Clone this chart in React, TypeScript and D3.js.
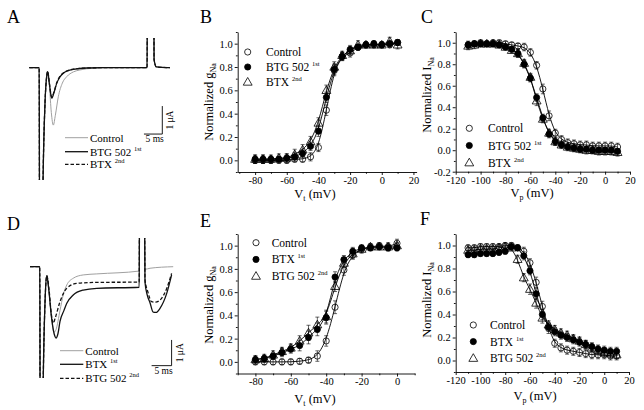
import React, { useEffect, useRef } from "react";
import * as d3 from "d3";

type Pt = [number, number];

const SERIF = "Liberation Serif";

// ---------- A: sodium current traces, time (ms) vs current (uA) ----------
const traceA_control: Pt[] = [
  [0, 0], [2.7, 0], [2.8, -6], [3.55, -6], [3.75, -4], [4.3, -1.2], [4.75, -0.3], [5.0, -0.14],
  [5.5, -0.7], [6.0, -1.6], [6.54, -2.05], [7.1, -1.7], [7.9, -1.04], [9.0, -0.55], [10.2, -0.32],
  [12, -0.15], [13.8, -0.08], [17.4, -0.02], [22, 0], [32.1, 0], [32.2, 4], [33.9, 4], [34.0, 0.3],
  [34.6, 0.03], [38.3, 0],
];
const traceA_btg: Pt[] = [
  [0, 0], [2.7, 0], [2.8, -6], [3.55, -6], [3.75, -4], [4.3, -1.2], [4.75, -0.3], [5.0, -0.14],
  [5.5, -0.6], [6.1, -1.09], [6.7, -0.9], [7.47, -0.56], [8.3, -0.34], [9.26, -0.2], [10.5, -0.11],
  [12, -0.06], [15.6, -0.01], [20, 0], [32.1, 0], [32.2, 4], [33.9, 4], [34.0, 0.3], [34.6, 0.03], [38.3, 0],
];
const traceA_btx: Pt[] = [
  [0, 0], [2.7, 0], [2.8, -6], [3.55, -6], [3.75, -4], [4.3, -1.2], [4.75, -0.3], [5.0, -0.13],
  [5.5, -0.58], [6.1, -1.05], [6.7, -0.88], [7.47, -0.54], [8.3, -0.32], [9.26, -0.19], [10.5, -0.1],
  [12, -0.05], [15.6, -0.01], [20, 0], [32.1, 0], [32.2, 4], [33.9, 4], [34.0, 0.3], [34.6, 0.03], [38.3, 0],
];

// ---------- D: currents, BTX first then BTG 502 ----------
const traceD_control: Pt[] = [
  [0, 0], [2.45, 0], [2.55, -7], [3.1, -7], [3.3, -4.5], [3.8, -1.2], [4.2, -0.35],
  [4.7, -0.9], [5.4, -2.0], [6.0, -2.55], [6.5, -2.45], [7.5, -1.7], [8.3, -1.1], [9.2, -0.71],
  [10.8, -0.45], [13.3, -0.32], [16.7, -0.28], [27.3, -0.17], [27.4, 3], [28.6, 3], [28.75, -0.1],
  [30, -0.06], [35.8, 0],
];
const traceD_btx: Pt[] = [
  [0, 0], [2.45, 0], [2.55, -7], [3.1, -7], [3.3, -4.5], [3.8, -1.2], [4.2, -0.35],
  [4.7, -0.9], [5.4, -2.0], [6.2, -2.7], [6.5, -2.78], [7.0, -2.6], [7.5, -2.13], [8.5, -1.7],
  [9.2, -1.42], [10.8, -1.1], [13.3, -0.91], [16.7, -0.84], [27.3, -0.8], [27.4, 3], [28.6, 3],
  [28.75, -0.6], [29.3, -1.1], [30, -1.4], [30.8, -1.77], [31.5, -1.78], [32.5, -1.62], [34.2, -1.03],
  [35.4, -0.32],
];
const traceD_btg: Pt[] = [
  [0, 0], [2.45, 0], [2.55, -7], [3.1, -7], [3.3, -4.5], [3.8, -1.2], [4.2, -0.35],
  [4.7, -0.8], [5.3, -1.8], [5.8, -2.2], [6.3, -2.0], [7.5, -1.36], [9.2, -0.84], [11.7, -0.65],
  [16.7, -0.61], [27.3, -0.6], [27.4, 3], [28.6, 3], [28.75, -0.5], [29.5, -1.0], [30.4, -1.36],
  [31.3, -1.38], [32.5, -1.3], [34.2, -0.84], [35.4, -0.26],
];

// ---------- B: activation (Vt, normalized gNa) ----------
const vB = [-80, -75, -70, -65, -60, -55, -50, -45, -40, -35, -30, -25, -20, -15, -10, -5, 0, 5, 10];
const gB_control = [0.0, 0.0, 0.0, 0.0, 0.0, 0.01, 0.01, 0.03, 0.11, 0.43, 0.77, 0.89, 0.92, 0.97, 0.99, 0.99, 0.99, 0.99, 1.01];
const gB_btg = [0.01, 0.01, 0.01, 0.01, 0.02, 0.03, 0.06, 0.12, 0.25, 0.54, 0.78, 0.89, 0.95, 0.97, 0.99, 1.0, 0.99, 1.0, 1.01];
const gB_btx = [0.01, 0.01, 0.01, 0.02, 0.02, 0.05, 0.09, 0.16, 0.32, 0.6, 0.8, 0.9, 0.94, 0.99, 0.99, 0.99, 0.99, 1.02, 0.99];
const eB_control = [0.01, 0.01, 0.01, 0.01, 0.01, 0.01, 0.01, 0.02, 0.02, 0.03, 0.03, 0.02, 0.02, 0.01, 0.01, 0.01, 0.01, 0.01, 0.01];
const eB_btg = [0.02, 0.02, 0.01, 0.01, 0.02, 0.02, 0.02, 0.02, 0.03, 0.03, 0.03, 0.02, 0.02, 0.01, 0.01, 0.01, 0.01, 0.01, 0.01];
const eB_btx = [0.02, 0.02, 0.02, 0.02, 0.02, 0.03, 0.03, 0.03, 0.03, 0.03, 0.03, 0.02, 0.02, 0.02, 0.01, 0.01, 0.01, 0.02, 0.02];

// ---------- C: steady-state inactivation (Vp, normalized INa) ----------
const vC = [-110, -105, -100, -95, -90, -85, -80, -75, -70, -65, -60, -55, -50, -45, -40, -35, -30, -25, -20, -15, -10, -5, 0, 5, 10];
const iC_control = [0.98, 0.99, 1.0, 0.99, 1.0, 1.0, 0.99, 0.98, 0.97, 0.96, 0.91, 0.79, 0.57, 0.32, 0.16, 0.1, 0.07, 0.06, 0.05, 0.05, 0.04, 0.04, 0.04, 0.04, 0.03];
const iC_btg = [0.98, 0.99, 0.99, 0.99, 0.99, 0.98, 0.96, 0.94, 0.9, 0.8, 0.67, 0.49, 0.3, 0.15, 0.08, 0.05, 0.03, 0.02, 0.01, 0.01, 0.0, 0.0, 0.0, 0.0, -0.01];
const iC_btx = [0.97, 0.98, 0.99, 0.99, 0.99, 0.98, 0.96, 0.93, 0.9, 0.81, 0.68, 0.46, 0.29, 0.16, 0.08, 0.05, 0.03, 0.02, 0.01, 0.0, 0.0, -0.01, -0.01, -0.01, -0.02];
const eC_control = [0.02, 0.01, 0.01, 0.01, 0.01, 0.01, 0.01, 0.01, 0.01, 0.02, 0.02, 0.02, 0.03, 0.03, 0.02, 0.02, 0.02, 0.02, 0.02, 0.02, 0.02, 0.02, 0.02, 0.02, 0.02];
const eC_btg = [0.01, 0.01, 0.01, 0.01, 0.01, 0.01, 0.01, 0.01, 0.02, 0.02, 0.02, 0.02, 0.02, 0.02, 0.02, 0.01, 0.01, 0.01, 0.01, 0.01, 0.01, 0.01, 0.01, 0.01, 0.01];
const eC_btx = [0.02, 0.02, 0.01, 0.01, 0.01, 0.01, 0.01, 0.01, 0.02, 0.02, 0.02, 0.03, 0.02, 0.02, 0.02, 0.02, 0.02, 0.02, 0.02, 0.02, 0.02, 0.02, 0.02, 0.02, 0.02];

// ---------- E: activation, BTX first ----------
const vE = [-80, -75, -70, -65, -60, -55, -50, -45, -40, -35, -30, -25, -20, -15, -10, -5, 0];
const gE_control = [0.0, 0.0, 0.0, 0.0, 0.0, 0.005, 0.015, 0.05, 0.18, 0.47, 0.79, 0.92, 0.97, 0.99, 1.0, 0.99, 1.02];
const gE_btx = [0.02, 0.03, 0.05, 0.08, 0.11, 0.14, 0.21, 0.28, 0.38, 0.73, 0.88, 0.95, 0.98, 0.98, 0.99, 0.98, 0.98];
const gE_btg = [0.02, 0.03, 0.06, 0.09, 0.12, 0.18, 0.25, 0.32, 0.39, 0.65, 0.85, 0.93, 0.97, 0.99, 0.99, 0.99, 1.0];
const eE_control = [0.01, 0.01, 0.01, 0.01, 0.01, 0.01, 0.01, 0.03, 0.03, 0.04, 0.03, 0.02, 0.01, 0.01, 0.01, 0.02, 0.02];
const eE_btx = [0.01, 0.01, 0.01, 0.02, 0.02, 0.03, 0.04, 0.04, 0.04, 0.03, 0.02, 0.02, 0.01, 0.01, 0.01, 0.01, 0.01];
const eE_btg = [0.02, 0.02, 0.02, 0.02, 0.02, 0.03, 0.05, 0.05, 0.04, 0.03, 0.02, 0.03, 0.02, 0.01, 0.01, 0.01, 0.01];

// ---------- F: inactivation, BTX first ----------
const vF = vC;
const iF_control = [0.98, 0.98, 0.99, 0.99, 0.99, 0.99, 1.0, 1.0, 0.98, 0.95, 0.85, 0.68, 0.47, 0.28, 0.15, 0.11, 0.09, 0.08, 0.07, 0.06, 0.05, 0.05, 0.05, 0.04, 0.04];
const iF_btx = [0.92, 0.92, 0.93, 0.93, 0.93, 0.94, 0.95, 0.99, 0.98, 0.91, 0.78, 0.58, 0.4, 0.29, 0.25, 0.22, 0.2, 0.18, 0.16, 0.14, 0.12, 0.1, 0.09, 0.08, 0.08];
const iF_btg = [0.96, 0.96, 0.97, 0.97, 0.97, 0.98, 0.99, 0.98, 0.88, 0.72, 0.62, 0.5, 0.37, 0.31, 0.27, 0.24, 0.22, 0.19, 0.17, 0.14, 0.11, 0.09, 0.07, 0.06, 0.05];
const eF_control = [0.01, 0.01, 0.01, 0.01, 0.01, 0.01, 0.01, 0.01, 0.01, 0.02, 0.02, 0.03, 0.03, 0.03, 0.02, 0.02, 0.02, 0.02, 0.02, 0.02, 0.02, 0.02, 0.02, 0.02, 0.02];
const eF_btx = [0.01, 0.01, 0.01, 0.01, 0.01, 0.01, 0.01, 0.01, 0.01, 0.02, 0.02, 0.03, 0.03, 0.02, 0.02, 0.02, 0.02, 0.02, 0.02, 0.02, 0.02, 0.02, 0.02, 0.02, 0.02];
const eF_btg = [0.01, 0.01, 0.01, 0.01, 0.01, 0.01, 0.01, 0.01, 0.02, 0.02, 0.03, 0.03, 0.03, 0.02, 0.02, 0.02, 0.02, 0.02, 0.02, 0.02, 0.02, 0.02, 0.02, 0.02, 0.02];

type Kind = "open" | "filled" | "triangle";
type Sel = d3.Selection<any, any, any, any>;

function txt(parent: Sel, size: number) {
  return parent.append("text").attr("font-family", SERIF).attr("font-size", size).attr("fill", "#000");
}

function addSup(t: Sel, main: string, sup: string) {
  t.append("tspan").text(main);
  if (sup) t.append("tspan").attr("dy", -5).attr("font-size", 6.5).text(sup);
}

function drawMarker(g: Sel, kind: Kind, cx: number, cy: number) {
  if (kind === "triangle") {
    g.append("path")
      .attr("d", d3.symbol(d3.symbolTriangle, 34)())
      .attr("transform", `translate(${cx},${cy + 0.6})`)
      .attr("fill", "none").attr("stroke", "#000").attr("stroke-width", 0.8);
  } else {
    g.append("circle").attr("cx", cx).attr("cy", cy).attr("r", 3.1)
      .attr("fill", kind === "filled" ? "#000" : "none")
      .attr("stroke", "#000").attr("stroke-width", 0.8);
  }
}

interface Series { vals: number[]; err: number[]; kind: Kind; name: string; sup: string }
interface CurveCfg {
  xDomain: [number, number]; xRange: [number, number];
  yDomain: [number, number]; yRange: [number, number];
  xMajor: number[]; xMinor: number[]; yMajor: number[]; yMinor: number[];
  v: number[]; series: Series[];
  legend: { mx: number; tx: number; y0: number; dy: number };
  yLab: { x: number; y: number; sub: string };
  xLab: { x: number; y: number; sub: string };
}

function drawCurves(svg: Sel, c: CurveCfg) {
  const x = d3.scaleLinear().domain(c.xDomain).range(c.xRange);
  const y = d3.scaleLinear().domain(c.yDomain).range(c.yRange);
  const g = svg.append("g");

  const ax = g.append("g").attr("transform", `translate(0,${c.yRange[0]})`)
    .call(d3.axisBottom(x).tickValues(c.xMajor).tickSize(3).tickSizeOuter(0).tickPadding(1.5).tickFormat((d: any) => String(d)));
  g.append("g").attr("transform", `translate(0,${c.yRange[0]})`)
    .call(d3.axisBottom(x).tickValues(c.xMinor).tickSize(1.8).tickFormat(() => ""))
    .select(".domain").remove();
  const ay = g.append("g").attr("transform", `translate(${c.xRange[0]},0)`)
    .call(d3.axisLeft(y).tickValues(c.yMajor).tickSize(3).tickSizeOuter(0).tickPadding(2).tickFormat((d: any) => (+d).toFixed(1)));
  g.append("g").attr("transform", `translate(${c.xRange[0]},0)`)
    .call(d3.axisLeft(y).tickValues(c.yMinor).tickSize(1.8).tickFormat(() => ""))
    .select(".domain").remove();
  [ax, ay].forEach((a) => a.attr("font-family", SERIF).attr("font-size", 10.5)
    .selectAll("text").attr("fill", "#000"));
  g.selectAll(".domain, .tick line").attr("stroke", "#000").attr("stroke-width", 0.9);

  const line = d3.line<[number, number]>().x((d) => x(d[0])).y((d) => y(d[1])).curve(d3.curveBasis);
  c.series.forEach((s) => {
    g.append("path").attr("d", line(c.v.map((v, i) => [v, s.vals[i]]) as [number, number][]))
      .attr("fill", "none").attr("stroke", "#000").attr("stroke-width", 0.9);
  });
  c.series.forEach((s) => {
    c.v.forEach((v, i) => {
      const cx = x(v), cy = y(s.vals[i]);
      drawMarker(g, s.kind, cx, cy);
      const e0 = y(s.vals[i] - s.err[i] - 0.015), e1 = y(s.vals[i] + s.err[i] + 0.015);
      g.append("path").attr("d", `M${cx},${e0}V${e1}M${cx - 2},${e0}H${cx + 2}M${cx - 2},${e1}H${cx + 2}`)
        .attr("stroke", "#000").attr("stroke-width", 0.6).attr("fill", "none");
    });
  });

  // legend
  c.series.forEach((s, i) => {
    const ly = c.legend.y0 + i * c.legend.dy;
    drawMarker(g, s.kind, c.legend.mx, ly);
    const t = txt(g, 11.5).attr("x", c.legend.tx).attr("y", ly + 4);
    addSup(t, s.name, s.sup);
  });

  // axis titles
  const yl = txt(g, 12.5).attr("transform", `translate(${c.yLab.x},${c.yLab.y}) rotate(-90)`)
    .attr("text-anchor", "middle");
  yl.append("tspan").text("Normalized " + (c.yLab.sub === "Na" ? "g" : "I"));
  yl.append("tspan").attr("dy", 3).attr("font-size", 8).text("Na");
  const xl = txt(g, 12.5).attr("x", c.xLab.x).attr("y", c.xLab.y).attr("text-anchor", "middle");
  xl.append("tspan").text("V");
  xl.append("tspan").attr("dy", 3).attr("font-size", 8).text(c.xLab.sub);
  xl.append("tspan").attr("dy", -3).text(" (mV)");
}

interface TraceCfg {
  x0: number; y0: number; pxPerMs: number; pxPerUa: number;
  clip: [number, number, number, number]; id: string;
  traces: { data: Pt[]; style: "grey" | "solid" | "dash" }[];
  legend: { x0: number; x1: number; ys: number[]; labels: [string, string][] };
  bar: [number, number]; // corner in (ms, uA)
  barMs: { dx: number; dy: number }; barUa: { dx: number; dy: number };
}

function styleTrace(p: Sel, s: "grey" | "solid" | "dash") {
  p.attr("fill", "none")
    .attr("stroke", s === "grey" ? "#a0a0a0" : "#111")
    .attr("stroke-width", s === "grey" ? 1 : 1.3)
    .attr("stroke-dasharray", s === "dash" ? "3.5,2" : null);
}

function drawTraces(svg: Sel, c: TraceCfg) {
  const x = d3.scaleLinear().domain([0, 1]).range([c.x0, c.x0 + c.pxPerMs]);
  const y = d3.scaleLinear().domain([0, -1]).range([c.y0, c.y0 + c.pxPerUa]);
  const g = svg.append("g");
  g.append("clipPath").attr("id", c.id).append("rect")
    .attr("x", c.clip[0]).attr("y", c.clip[1]).attr("width", c.clip[2]).attr("height", c.clip[3]);
  const line = d3.line<Pt>().x((d) => x(d[0])).y((d) => y(d[1])).curve(d3.curveMonotoneX);
  const tg = g.append("g").attr("clip-path", `url(#${c.id})`);
  c.traces.forEach((t) => styleTrace(tg.append("path").attr("d", line(t.data)), t.style));

  c.traces.forEach((t, i) => {
    const ly = c.legend.ys[i];
    styleTrace(g.append("path").attr("d", `M${c.legend.x0},${ly}H${c.legend.x1}`), t.style);
    const tx = txt(g, 11).attr("x", c.legend.x1 + 2).attr("y", ly + 4);
    addSup(tx, c.legend.labels[i][0], c.legend.labels[i][1]);
  });

  const [bt, bi] = c.bar;
  g.append("path")
    .attr("d", `M${x(bt - 5)},${y(bi)}H${x(bt)}V${y(bi + 1)}`)
    .attr("fill", "none").attr("stroke", "#000").attr("stroke-width", 0.9);
  txt(g, 9.5).attr("x", (x(bt - 5) + x(bt)) / 2 + c.barMs.dx).attr("y", y(bi) + c.barMs.dy)
    .attr("text-anchor", "middle").text("5 ms");
  txt(g, 9.5)
    .attr("transform", `translate(${x(bt) + c.barUa.dx},${(y(bi) + y(bi + 1)) / 2 + c.barUa.dy}) rotate(-90)`)
    .attr("text-anchor", "middle").text("1 \u03bcA");
}

export default function App() {
  const ref = useRef<SVGSVGElement>(null);
  useEffect(() => {
    const svg = d3.select(ref.current);
    svg.selectAll("*").remove();
    svg.append("rect").attr("width", 644).attr("height", 410).attr("fill", "#fff");

    const letters: [string, number, number][] = [
      ["A", 7, 23], ["B", 200, 23], ["C", 421, 23], ["D", 7, 230], ["E", 200, 227], ["F", 420, 225],
    ];
    letters.forEach(([l, lx, ly]) => txt(svg, 18).attr("x", lx).attr("y", ly).text(l));

    drawTraces(svg, {
      id: "clipA", x0: 29.3, y0: 67.7, pxPerMs: 3.67, pxPerUa: 28,
      clip: [20, 38, 165, 142],
      traces: [
        { data: traceA_control, style: "grey" },
        { data: traceA_btg, style: "solid" },
        { data: traceA_btx, style: "dash" },
      ],
      legend: { x0: 65, x1: 88, ys: [137.7, 151.7, 164.3], labels: [["Control", ""], ["BTG 502 ", "1st"], ["BTX ", "2nd"]] },
      bar: [36.24, -2.37], barMs: { dx: 1.5, dy: 7.5 }, barUa: { dx: 10.5, dy: 0 },
    });
    drawTraces(svg, {
      id: "clipD", x0: 30, y0: 266.7, pxPerMs: 4, pxPerUa: 25.7,
      clip: [20, 238, 165, 140],
      traces: [
        { data: traceD_control, style: "grey" },
        { data: traceD_btx, style: "solid" },
        { data: traceD_btg, style: "dash" },
      ],
      legend: { x0: 60, x1: 83.3, ys: [350.7, 364.3, 378.3], labels: [["Control", ""], ["BTX ", "1st"], ["BTG 502 ", "2nd"]] },
      bar: [35.4, -3.85], barMs: { dx: 2, dy: 8 }, barUa: { dx: 11, dy: 0 },
    });

    drawCurves(svg, {
      xDomain: [-91, 22], xRange: [237.7, 416.6], yDomain: [-0.1, 1.1], yRange: [172, 32],
      xMajor: [-80, -60, -40, -20, 0, 20], xMinor: [-90, -70, -50, -30, -10, 10],
      yMajor: [0, 0.2, 0.4, 0.6, 0.8, 1.0], yMinor: [-0.1, 0.1, 0.3, 0.5, 0.7, 0.9, 1.1],
      v: vB,
      series: [
        { vals: gB_control, err: eB_control, kind: "open", name: "Control", sup: "" },
        { vals: gB_btg, err: eB_btg, kind: "filled", name: "BTG 502 ", sup: "1st" },
        { vals: gB_btx, err: eB_btx, kind: "triangle", name: "BTX ", sup: "2nd" },
      ],
      legend: { mx: 247.7, tx: 266, y0: 52, dy: 15 },
      yLab: { x: 213, y: 102, sub: "Na" }, xLab: { x: 315, y: 198, sub: "t" },
    });
    drawCurves(svg, {
      xDomain: [-120, 20], xRange: [455.7, 630], yDomain: [-0.2, 1.1], yRange: [171.7, 32],
      xMajor: [-120, -100, -80, -60, -40, -20, 0, 20], xMinor: [-110, -90, -70, -50, -30, -10, 10],
      yMajor: [-0.2, 0, 0.2, 0.4, 0.6, 0.8, 1.0], yMinor: [-0.1, 0.1, 0.3, 0.5, 0.7, 0.9, 1.1],
      v: vC,
      series: [
        { vals: iC_control, err: eC_control, kind: "open", name: "Control", sup: "" },
        { vals: iC_btg, err: eC_btg, kind: "filled", name: "BTG 502 ", sup: "1st" },
        { vals: iC_btx, err: eC_btx, kind: "triangle", name: "BTX ", sup: "2nd" },
      ],
      legend: { mx: 469.3, tx: 488, y0: 128.3, dy: 17.2 },
      yLab: { x: 431, y: 95, sub: "I" }, xLab: { x: 532, y: 197, sub: "p" },
    });
    drawCurves(svg, {
      xDomain: [-90, 10], xRange: [237.7, 414.7], yDomain: [-0.1, 1.1], yRange: [373.5, 234],
      xMajor: [-80, -60, -40, -20, 0], xMinor: [-90, -70, -50, -30, -10, 10],
      yMajor: [0, 0.2, 0.4, 0.6, 0.8, 1.0], yMinor: [-0.1, 0.1, 0.3, 0.5, 0.7, 0.9, 1.1],
      v: vE,
      series: [
        { vals: gE_control, err: eE_control, kind: "open", name: "Control", sup: "" },
        { vals: gE_btx, err: eE_btx, kind: "filled", name: "BTX ", sup: "1st" },
        { vals: gE_btg, err: eE_btg, kind: "triangle", name: "BTG 502 ", sup: "2nd" },
      ],
      legend: { mx: 256, tx: 271.7, y0: 242.7, dy: 16.7 },
      yLab: { x: 213, y: 305, sub: "Na" }, xLab: { x: 315, y: 403, sub: "t" },
    });
    drawCurves(svg, {
      xDomain: [-120, 20], xRange: [455.7, 629], yDomain: [-0.1, 1.1], yRange: [372, 234],
      xMajor: [-120, -100, -80, -60, -40, -20, 0, 20], xMinor: [-110, -90, -70, -50, -30, -10, 10],
      yMajor: [0, 0.2, 0.4, 0.6, 0.8, 1.0], yMinor: [-0.1, 0.1, 0.3, 0.5, 0.7, 0.9, 1.1],
      v: vF,
      series: [
        { vals: iF_control, err: eF_control, kind: "open", name: "Control", sup: "" },
        { vals: iF_btx, err: eF_btx, kind: "filled", name: "BTX ", sup: "1st" },
        { vals: iF_btg, err: eF_btg, kind: "triangle", name: "BTG 502 ", sup: "2nd" },
      ],
      legend: { mx: 473.3, tx: 490, y0: 325, dy: 16.6 },
      yLab: { x: 431, y: 300, sub: "I" }, xLab: { x: 535, y: 400, sub: "p" },
    });
  }, []);
  return <svg ref={ref} width={644} height={410} style={{ position: "absolute", left: 0, top: 0 }} />;
}
